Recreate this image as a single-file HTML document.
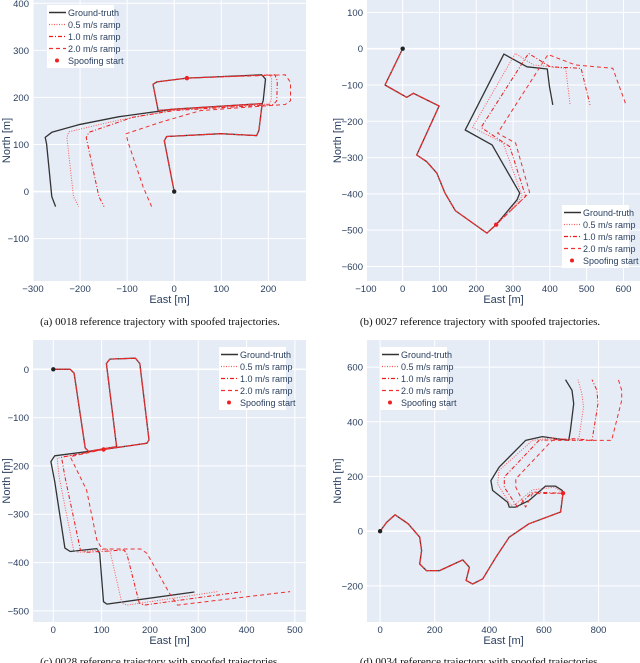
<!DOCTYPE html>
<html><head><meta charset="utf-8"><style>
html,body{margin:0;padding:0;background:#fff;}
svg{display:block;font-family:"Liberation Sans",sans-serif;}
</style></head><body>
<svg id="fig" width="640" height="663" viewBox="0 0 640 663" xmlns="http://www.w3.org/2000/svg"></svg>
<script>
// ---- Panel (a) 0018 ----
const gtA = [[0,0],[-21,108],[-16,117],[99,123],[175,119],[180,130],[187,187],[-1,175],[-34,172],[-45,228],[-37,233],[27,241],[186,248],[194,239],[189,193],[187,187],[-1,175],[-117,159],[-203,142],[-260,126],[-274,115],[-271,101],[-260,-11],[-252,-32]];
const spoofIdxA = 11;
const a05 = [[204,248],[207,239],[206,193],[200,186],[-1,173],[-117,152],[-224,127],[-228,115],[-214,-11],[-203,-32]];
const a10 = [[214,248],[219,235],[218,193],[211,185],[-1,172],[-88,158],[-181,126],[-187,115],[-160,-11],[-149,-32]];
const a20 = [[236,248],[247,232],[247,193],[236,185],[56,172],[-30,147],[-102,123],[-99,108],[-66,10],[-48,-32]];
const xTicksA = [-300,-200,-100,0,100,200];
const yTicksA = [-100,0,100,200,300,400];
// ---- Panel (b) 0027 ----
const gtB = [[0,0],[-48,-100],[11,-134],[29,-123],[99,-158],[38,-293],[65,-311],[93,-343],[115,-398],[143,-446],[229,-508],[254,-485],[311,-416],[318,-398],[243,-265],[170,-224],[275,-15],[338,-50],[393,-56],[399,-105],[408,-155]];
const spoofIdxB = 11;
const b05 = [[325,-407],[273,-260],[190,-217],[306,-13],[356,-45],[443,-54],[455,-155]];
const b10 = [[334,-407],[291,-270],[213,-217],[342,-13],[401,-50],[485,-54],[509,-155]];
const b20 = [[345,-396],[307,-260],[258,-233],[395,-16],[470,-45],[571,-54],[607,-155]];
const xTicksB = [-100,0,100,200,300,400,500,600];
const yTicksB = [-600,-500,-400,-300,-200,-100,0,100];
// ---- Panel (c) 0028 ----
const gtC = [[0,0],[35,0],[43,-8],[66,-163],[73,-170],[131,-160],[110,12],[117,21],[170,23],[179,12],[198,-146],[194,-153],[104,-166],[3,-179],[-5,-191],[3,-232],[24,-370],[35,-377],[90,-371],[96,-381],[104,-481],[111,-486],[292,-461]];
const spoofIdxC = 12;
const c05 = [[8,-184],[12,-222],[42,-374],[52,-379],[111,-372],[118,-379],[142,-484],[153,-488],[340,-460]];
const c10 = [[17,-182],[24,-222],[56,-374],[66,-379],[146,-374],[152,-381],[178,-484],[188,-488],[392,-460]];
const c20 = [[35,-181],[69,-250],[90,-353],[101,-372],[181,-372],[194,-381],[240,-463],[257,-488],[490,-460]];
const xTicksC = [0,100,200,300,400,500];
const yTicksC = [-500,-400,-300,-200,-100,0];
// ---- Panel (d) 0034 ----
const gtD = [[0,0],[24,33],[55,60],[103,27],[145,-22],[152,-71],[145,-120],[170,-144],[218,-144],[303,-105],[327,-132],[315,-180],[339,-193],[376,-174],[424,-95],[473,-22],[545,27],[661,70],[670,139],[667,149],[642,165],[606,165],[545,112],[497,88],[473,88],[467,106],[412,149],[406,185],[436,234],[533,332],[594,346],[691,332],[697,368],[709,466],[703,515],[679,554]];
const spoofIdxD = 18;
const d05 = [[639,161],[558,151],[497,100],[479,94],[430,173],[436,222],[558,332],[630,341],[727,332],[745,454],[739,502],[725,554]];
const d10 = [[558,143],[503,88],[455,161],[455,198],[582,332],[715,338],[776,332],[798,466],[794,515],[776,554]];
const d20 = [[558,137],[533,88],[497,161],[497,191],[630,332],[800,332],[848,332],[885,478],[885,515],[873,554]];
const xTicksD = [0,200,400,600,800];
const yTicksD = [-200,0,200,400,600];

const NS = "http://www.w3.org/2000/svg";
const svg = document.getElementById('fig');
function mk(tag, attrs, parent){
  const e = document.createElementNS(NS, tag);
  for (const k in attrs) e.setAttribute(k, attrs[k]);
  (parent||svg).appendChild(e);
  return e;
}
const panels = [
  {id:'a', box:[33,0,306,281], xd:[-300,280], yd:[-190,407], gt:gtA, si:spoofIdxA, s:[a05,a10,a20], xt:xTicksA, yt:yTicksA, leg:[47,5], ytitleX:6, cap:'(a) 0018 reference trajectory with spoofed trajectories.', capY:325},
  {id:'b', box:[367,0,640,281], xd:[-97,645], yd:[-640,134], gt:gtB, si:spoofIdxB, s:[b05,b10,b20], xt:xTicksB, yt:yTicksB, leg:[562,205], ytitleX:337, cap:'(b) 0027 reference trajectory with spoofed trajectories.', capY:325},
  {id:'c', box:[33,340,306,622], xd:[-42,523], yd:[-523,60.6], gt:gtC, si:spoofIdxC, s:[c05,c10,c20], xt:xTicksC, yt:yTicksC, leg:[219,347], ytitleX:6, cap:'(c) 0028 reference trajectory with spoofed trajectories.', capY:665},
  {id:'d', box:[367,340,640,622], xd:[-48,952], yd:[-332,699], gt:gtD, si:spoofIdxD, s:[d05,d10,d20], xt:xTicksD, yt:yTicksD, leg:[380,347], ytitleX:337, cap:'(d) 0034 reference trajectory with spoofed trajectories.', capY:665}
];
const styles = [
  {color:'#ff5a5a', dash:'1,1.5', w:1, name:'0.5 m/s ramp'},
  {color:'#ee1a1a', dash:'4,2,1,2', w:1, name:'1.0 m/s ramp'},
  {color:'#f03030', dash:'4,3', w:1, name:'2.0 m/s ramp'}
];
const tickColor = '#2a3f5f';
panels.forEach(p=>{
  const [x0,y0,x1,y1] = p.box;
  const sx = v => x0 + (v - p.xd[0]) / (p.xd[1]-p.xd[0]) * (x1-x0);
  const sy = v => y1 - (v - p.yd[0]) / (p.yd[1]-p.yd[0]) * (y1-y0);
  const g = mk('g', {});
  
  
  const bg = mk('rect', {x:x0, y:y0, width:x1-x0, height:y1-y0, fill:'#e5ecf6'}, g);
  
  
  p.xt.forEach(t=>{
    const X = sx(t);
    if (X >= x0 && X <= x1) {
      const l = mk('line', {x1:X, x2:X, y1:y0, y2:y1, stroke:'#fff', 'stroke-width':1}, g);
      
      
    }
    const tx = mk('text', {x:X, y:y1+11, 'font-size':9.5, fill:tickColor, 'text-anchor':'middle'}, g);
    tx.textContent = t < 0 ? '\u2212' + (-t) : String(t);
    
    
  });
  p.yt.forEach(t=>{
    const Y = sy(t);
    const l = mk('line', {x1:x0, x2:x1, y1:Y, y2:Y, stroke:'#fff', 'stroke-width': t===0?1.6:1}, g);
    
    
    const tx = mk('text', {x:x0-4, y:Y+3.5, 'font-size':9.5, fill:tickColor, 'text-anchor':'end'}, g);
    tx.textContent = t < 0 ? '\u2212' + (-t) : String(t);
    
    
  });
  const ptsStr = arr => arr.map(q=>sx(q[0]).toFixed(1)+','+sy(q[1]).toFixed(1)).join(' ');
  const gtLine = mk('polyline', {points:ptsStr(p.gt), fill:'none', stroke:'#333', 'stroke-width':1.3, 'stroke-linejoin':'round'}, g);
  
  
  const prefix = p.gt.slice(0, p.si+1);
  p.s.forEach((suf, i)=>{
    const st = styles[i];
    const pl = mk('polyline', {points:ptsStr(prefix.concat(suf)), fill:'none', stroke:st.color, 'stroke-width':st.w, 'stroke-dasharray':st.dash, 'stroke-linejoin':'round'}, g);
    
    
  });
  const origin = mk('circle', {cx:sx(0), cy:sy(0), r:2.2, fill:'#222'}, g);
  
  
  const sp = p.gt[p.si];
  const sdot = mk('circle', {cx:sx(sp[0]), cy:sy(sp[1]), r:2.2, fill:'#ee2222'}, g);
  
  
  // axis titles
  const xt = mk('text', {x:(x0+x1)/2, y:y1+22, 'font-size':11, fill:tickColor, 'text-anchor':'middle'}, g);
  xt.textContent = 'East [m]';
  
  
  const yc = (y0+y1)/2;
  const yt = mk('text', {x:p.ytitleX+4, y:yc, 'font-size':11, fill:tickColor, 'text-anchor':'middle', transform:'rotate(-90 '+(p.ytitleX+4)+' '+yc+')'}, g);
  yt.textContent = 'North [m]';
  
  
  // legend
  const [lx, ly] = p.leg;
  const lg = mk('g', {}, g);
  
  
  mk('rect', {x:lx, y:ly, width:67, height:63, fill:'#fff'}, lg);
  const entries = [{color:'#333', dash:'', w:1.6, name:'Ground-truth'}].concat(styles).concat([{marker:true, name:'Spoofing start'}]);
  entries.forEach((e, i)=>{
    const cy = ly + 7.5 + i*12;
    const eg = mk('g', {}, lg);
    
    
    if (e.marker) mk('circle', {cx:lx+10, cy:cy, r:2, fill:'#ee2222'}, eg);
    else mk('line', {x1:lx+2, x2:lx+19, y1:cy, y2:cy, stroke:e.color, 'stroke-width':e.w===1?1.2:e.w, 'stroke-dasharray':e.dash}, eg);
    const t = mk('text', {x:lx+21, y:cy+3.3, 'font-size':9, fill:tickColor}, eg);
    t.textContent = e.name;
  });
  const cap = mk('text', {x:(p.id==='a'||p.id==='c')?160:480, y:p.capY, 'font-size':11, fill:'#111', 'text-anchor':'middle', 'font-family':'"Liberation Serif",serif'}, g);
  cap.textContent = p.cap;
  
  
});
</script>
</body></html>
